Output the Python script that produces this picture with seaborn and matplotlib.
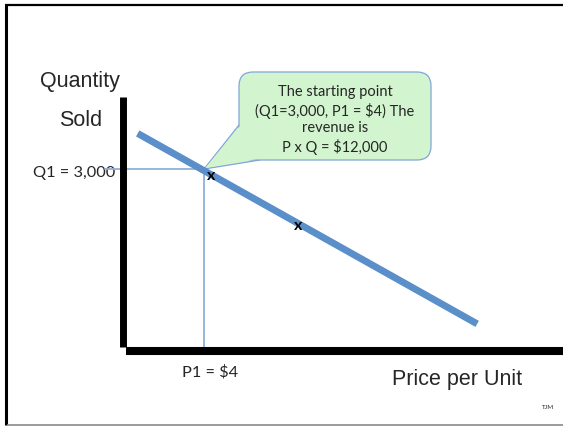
import matplotlib
matplotlib.use("Agg")
import matplotlib.pyplot as plt
from matplotlib.patches import FancyBboxPatch, Polygon
import numpy as np
import pandas as pd
import seaborn as sns

# Demand curve (price per unit vs. quantity sold)
price_line = [0.6, 18.0]
qty_line = [3600, 390]

# Starting point
p1 = 4
q1 = 3000

# "x" marks along the curve
marker_price = [4.35, 8.8]
marker_qty = [2880, 2040]

callout_lines = ["The starting point", "(Q1=3,000, P1 = $4) The", "revenue is", "P x Q = $12,000"]

sns.set_theme(style="white")
plt.rcParams["font.family"] = ["Liberation Sans", "DejaVu Sans"]

W, H = 563, 426
fig = plt.figure(figsize=(W / 100, H / 100), dpi=100)
fig.patch.set_facecolor("white")

# Page-level layer in pixel units (border, callout, labels)
page = fig.add_axes([0, 0, 1, 1], zorder=0)
page.set_xlim(0, W)
page.set_ylim(H, 0)
page.axis("off")

page.plot([5, W], [5, 5], color="black", lw=1.6, solid_capstyle="butt")
page.plot([6, 6], [4, 425], color="black", lw=2.2, solid_capstyle="butt")
page.plot([7, W], [424.5, 424.5], color="#8a8a8a", lw=1.2, solid_capstyle="butt")

# Chart axes
ax = fig.add_axes([126 / W, (H - 347) / H, 437 / W, 250 / H], zorder=2)
ax.patch.set_alpha(0)
ax.set_xlim(0, 22.4)
ax.set_ylim(0, 4214)
ax.set_xticks([])
ax.set_yticks([])
for side in ("top", "right"):
    ax.spines[side].set_visible(False)
ax.spines["left"].set_linewidth(5.0)
ax.spines["left"].set_position(("outward", 2.5))
ax.spines["left"].set_color("black")
ax.spines["left"].set_capstyle("butt")
ax.spines["bottom"].set_linewidth(5.8)
ax.spines["bottom"].set_position(("outward", 2.9))
ax.spines["bottom"].set_color("black")
ax.spines["bottom"].set_capstyle("butt")

# Guides to the starting point
guide = "#8fb1d9"
ax.plot([-1.1, p1], [q1, q1], color=guide, lw=1.3, clip_on=False, zorder=1)
ax.plot([p1, p1], [0, q1], color=guide, lw=1.3, clip_on=False, zorder=1)

demand = pd.DataFrame({"price": price_line, "qty": qty_line})
sns.lineplot(data=demand, x="price", y="qty", ax=ax, color="#5b8fca", lw=5.0,
             solid_capstyle="butt", zorder=3, legend=False)
ax.set_xlabel("")
ax.set_ylabel("")

for px, qy in zip(marker_price, marker_qty):
    ax.text(px, qy, "x", ha="center", va="center", fontsize=11.5, fontweight="bold",
            family=["Lato", "DejaVu Sans"], color="black", zorder=4)

# Callout bubble pointing at the starting point
tip = ax.transData.transform((p1, q1))
tip_px = page.transData.inverted().transform(tip)
fill = "#d2f5cf"
edge = "#7fa6d6"
page.add_patch(Polygon([(239, 125), tuple(tip_px), (260, 160)], closed=True,
                       facecolor=fill, edgecolor=edge, lw=0.9, zorder=5))
page.add_patch(FancyBboxPatch((239, 72), 192, 88,
                              boxstyle="round,pad=0,rounding_size=14",
                              facecolor=fill, edgecolor=edge, lw=0.9, zorder=6))
page.add_patch(Polygon([(241, 125), tuple(tip_px + np.array([1.2, -1.0])), (260, 158.5)],
                       closed=True, facecolor=fill, edgecolor="none", zorder=7))
page.text(335, 120, "\n".join(callout_lines), ha="center", va="center", fontsize=10.5,
          family=["Lato", "DejaVu Sans"], linespacing=1.25, zorder=8)

# Axis titles and value labels
page.text(80, 87, "Quantity", ha="center", va="baseline", fontsize=15.5)
page.text(81, 126, "Sold", ha="center", va="baseline", fontsize=15.5)
page.text(457, 385, "Price per Unit", ha="center", va="baseline", fontsize=15.5)
page.text(115, 177, "Q1 = 3,000", ha="right", va="baseline", fontsize=11.8,
          family=["Lato", "DejaVu Sans"])
page.text(210, 377, "P1 = $4", ha="center", va="baseline", fontsize=11.8,
          family=["Lato", "DejaVu Sans"])
page.text(548, 409, "TJM", ha="center", va="baseline", fontsize=4.5,
          family=["Lato", "DejaVu Sans"])

fig.savefig("out.png", dpi=100, facecolor="white")
